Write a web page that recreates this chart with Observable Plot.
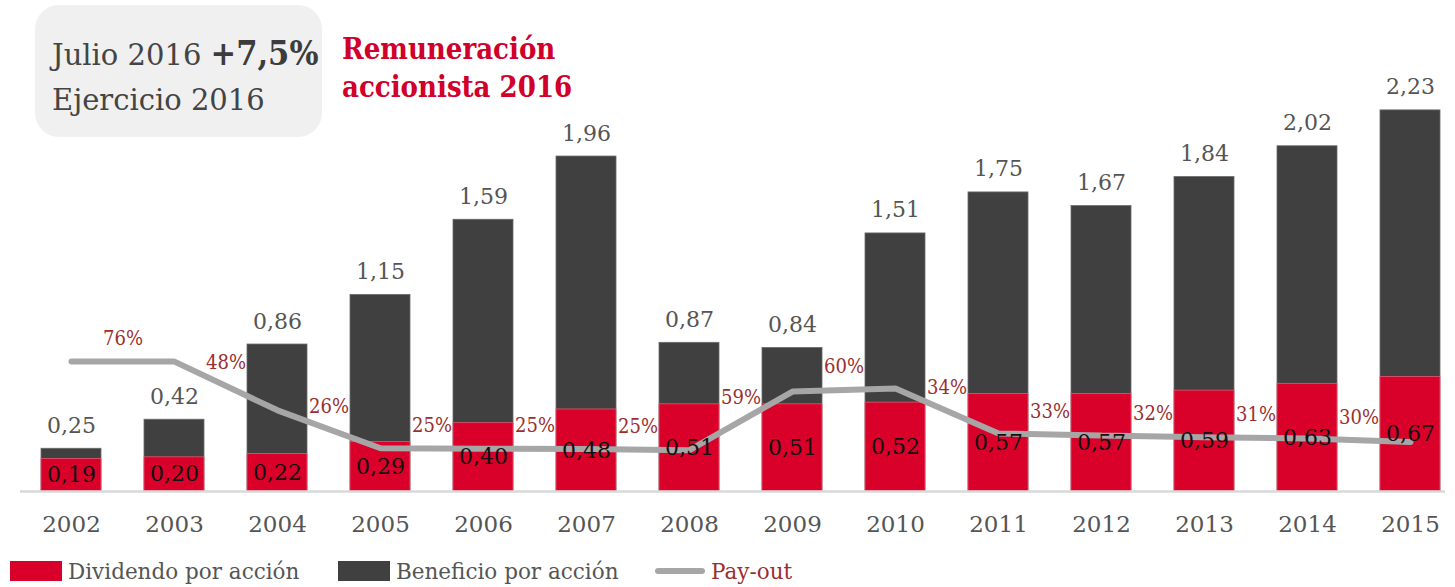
<!DOCTYPE html>
<html>
<head>
<meta charset="utf-8">
<script src="https://cdn.jsdelivr.net/npm/d3@7"></script>
<script src="https://cdn.jsdelivr.net/npm/@observablehq/plot@0.6"></script>
<style>
  html, body { margin: 0; padding: 0; background: #fff; }
  body { width: 1455px; height: 587px; overflow: hidden; }
  #wrap { position: relative; width: 1455px; height: 587px;
    font-family: "DejaVu Serif", serif; }
  #chart { position: absolute; left: 0; top: 0; }
  #box { position: absolute; left: 35px; top: 5px; width: 287px; height: 132px;
    background: #f0f0f0; border-radius: 24px; }
  #box .l1 { position: absolute; left: 17px; top: 28px; font-size: 29px; color: #444; white-space: nowrap; }
  #box .l1 b { font-family: "DejaVu Serif Condensed", "DejaVu Serif", serif; font-stretch: condensed;
    font-size: 34px; color: #3c3c3c; font-weight: bold; }
  #box .l2 { position: absolute; left: 17px; top: 78px; font-size: 29px; color: #444; white-space: nowrap; }
  #title { position: absolute; left: 342px; top: 30px; font-size: 29px; line-height: 38px;
    font-family: "DejaVu Serif Condensed", "DejaVu Serif", serif; font-stretch: condensed;
    font-weight: bold; color: #d0002a; white-space: nowrap; }
  #legend { position: absolute; left: 0; top: 558px; height: 26px; width: 1455px; font-size: 21.5px; color: #555; }
  .lg { position: absolute; top: 0; display: flex; align-items: center; height: 26px; white-space: nowrap; }
  .sw { width: 52px; height: 20px; margin-right: 6px; }
  .ln { width: 50px; height: 6px; border-radius: 3px; background: #a6a6a6; margin-right: 6px; }
</style>
</head>
<body>
<div id="wrap">
  <div id="chart"></div>
  <div id="box">
    <div class="l1">Julio 2016 <b>+7,5%</b></div>
    <div class="l2">Ejercicio 2016</div>
  </div>
  <div id="title">Remuneración<br>accionista 2016</div>
  <div id="legend">
    <div class="lg" style="left:10px"><div class="sw" style="background:#d9002a"></div>Dividendo por acción</div>
    <div class="lg" style="left:338px"><div class="sw" style="background:#404040"></div>Beneficio por acción</div>
    <div class="lg" style="left:655px;color:#9b2f2f"><div class="ln"></div>Pay-out</div>
  </div>
</div>
<script>
const years = ["2002","2003","2004","2005","2006","2007","2008","2009","2010","2011","2012","2013","2014","2015"];
const beneficio = [0.25,0.42,0.86,1.15,1.59,1.96,0.87,0.84,1.51,1.75,1.67,1.84,2.02,2.23];
const dividendo = [0.19,0.20,0.22,0.29,0.40,0.48,0.51,0.51,0.52,0.57,0.57,0.59,0.63,0.67];
const payout = [0.76,0.76,0.475,0.253,0.25,0.248,0.242,0.585,0.603,0.34,0.328,0.318,0.31,0.29];
const payoutLabels = ["76%","48%","26%","25%","25%","25%","59%","60%","34%","33%","32%","31%","30%"];

const rows = years.map((y, i) => ({year: y, ben: beneficio[i], div: dividendo[i], pay: payout[i]}));
const labelRows = payoutLabels.map((t, i) => ({year: years[i], text: t, mid: (payout[i] + payout[i + 1]) / 2}));
const fmt = v => d3.format(".2f")(v).replace(".", ",");

const W = 1455, H = 548;
const chart = Plot.plot({
  width: W, height: H,
  marginLeft: 20, marginRight: 10, marginTop: 0, marginBottom: 57,
  style: {fontFamily: '"DejaVu Serif", serif', background: "transparent", overflow: "visible"},
  x: {domain: years, range: [40, 1441], paddingInner: 0.42, paddingOuter: 0, label: null},
  y: {domain: [0, 2.873], axis: null},
  marks: [
    Plot.barY(rows, {x: "year", y: "ben", fill: "#404040", stroke: "#6a6a6a", strokeWidth: 0.8}),
    Plot.barY(rows, {x: "year", y: "div", fill: "#d9002a", stroke: "#e05a70", strokeWidth: 0.8}),
    Plot.ruleY([0], {stroke: "#d9d9d9", strokeWidth: 2.5}),
    Plot.line(rows, {x: "year", y: "pay", stroke: "#a6a6a6", strokeWidth: 6, strokeLinejoin: "miter", strokeLinecap: "round"}),
    Plot.text(rows, {x: "year", y: "ben", text: d => fmt(d.ben), dy: -23, fontSize: 22, fill: "#555"}),
    Plot.text(rows, {x: "year", y: d => d.div / 2, text: d => fmt(d.div), fontSize: 22, fill: "#111"}),
    Plot.text(labelRows, {x: "year", y: "mid", text: "text", dx: 51.6, dy: -23, fontSize: 20, fill: "#9b2f2f",
      fontFamily: '"DejaVu Serif Condensed", "DejaVu Serif", serif'}),
    Plot.axisX({tickSize: 0, tickPadding: 24, fontSize: 23, color: "#555", label: null})
  ]
});
document.getElementById("chart").appendChild(chart);
</script>
</body>
</html>
